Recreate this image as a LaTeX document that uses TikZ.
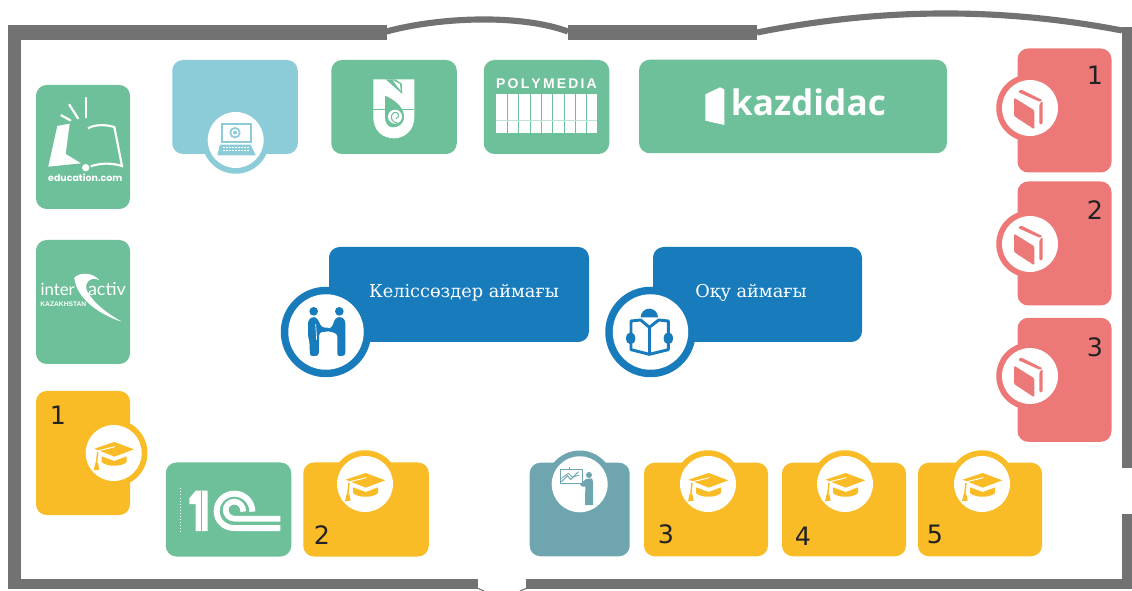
\documentclass[tikz,border=0pt]{standalone}
\usepackage{fontspec}
\setmainfont{DejaVu Sans}
\newfontfamily\labelfont{DejaVu Serif}
\newfontfamily\kazfont{Open Sans}
\newfontfamily\edufont{Poppins}
\newfontfamily\interfont{Lato}
\newfontfamily\polyfont{Liberation Sans}
\definecolor{wallc}{HTML}{727272}
\definecolor{greenc}{HTML}{6EC09A}
\definecolor{yellowc}{HTML}{F9BC26}
\definecolor{redc}{HTML}{EC7878}
\definecolor{bluec}{HTML}{187CBC}
\definecolor{skyc}{HTML}{8BCCD8}
\definecolor{tealc}{HTML}{6FA5AE}
\definecolor{numc}{HTML}{222222}
\tikzset{
  zoomed/.style 2 args={shift={(#1,#2)},x=.25pt,y=-.25pt},
  card/.style={rectangle,rounded corners=8pt,inner sep=0pt,outer sep=0pt},
  wide/.style={card,minimum width=125.5*.75pt,minimum height=94*.75pt},
  tall/.style={card,minimum width=94*.75pt,minimum height=124*.75pt},
  ring/.style={circle,inner sep=0pt,outer sep=0pt,minimum size=67.5*.75pt},
  disc/.style={circle,inner sep=0pt,outer sep=0pt,fill=white,minimum size=56*.75pt},
  bigring/.style={circle,inner sep=0pt,outer sep=0pt,fill=bluec,minimum size=90.5*.75pt},
  bigdisc/.style={circle,inner sep=0pt,outer sep=0pt,fill=white,minimum size=75.5*.75pt},
  wall/.style={fill=wallc},
  wallarc/.style={draw=wallc,line width=4.6pt,line cap=butt},
  num/.style={text=numc,font=\fontsize{19}{19}\selectfont,inner sep=0pt},
  zone/.style={text=white,font=\labelfont\fontsize{13.3}{15}\selectfont,inner sep=0pt},
  capicon/.pic={
    \begin{scope}[x=.25pt,y=-.25pt,shift={(-341,-670)}]
      \fill[yellowc] (283,657) -- (343,637) -- (402,659) -- (343,681) -- cycle;
      \fill[yellowc] (305,680) -- (343,694) -- (380,680) -- (380,697) .. controls (365,712) and (320,712) .. (305,697) -- cycle;
      \draw[white,line width=.7pt] (292,664) -- (345,651);
      \draw[yellowc,line width=1.1pt] (293,667) -- (289,705);
      \fill[yellowc] (286,700) -- (294,700) -- (298,720) -- (281,722) -- cycle;
    \end{scope}},
  bookicon/.pic={
    \begin{scope}[x=.25pt,y=-.25pt,shift={(-150,-228)}]
      \fill[redc,rounded corners=1pt] (102,197) -- (163,235) -- (163,292) -- (102,252) -- cycle;
      \fill[redc,rounded corners=1pt] (114,180) -- (122,172) -- (188,205) -- (180,210) -- cycle;
      \fill[redc,rounded corners=1pt] (178,216) -- (188,207) -- (188,277) -- (178,277) -- cycle;
    \end{scope}},
}
\begin{document}
\begin{tikzpicture}[x=.75pt,y=-.75pt]
\useasboundingbox (0,0) rectangle (1132,591);
% walls
\fill[wall] (8,25) rectangle (386.5,40);
\fill[wall] (568,25) rectangle (757,40);
\fill[wall] (8,25) rectangle (20.5,589);
\fill[wall] (8,579) rectangle (478,589);
\fill[wall] (526,579) rectangle (1132,589);
\fill[wall] (1122,27) rectangle (1132,468);
\fill[wall] (1122,514) rectangle (1132,589);
\draw[wallarc] (386.5,31.5) .. controls (440,17) and (520,14) .. (568,31.5);
\draw[wallarc] (757,32.5) .. controls (880,8) and (1000,7) .. (1122,30.5);
\draw[wallc,line width=.8pt] (478,588.5) -- (484,591);
\draw[wallc,line width=.8pt] (526,588.5) -- (520,591);

% green cards
\node[tall,fill=greenc] (edu) at (83,147) {};
\node[tall,fill=greenc] (inter) at (83,302) {};
\node[wide,fill=skyc] (laptopcard) at (235,107) {};
\node[wide,fill=greenc] (nu) at (394,107) {};
\node[wide,fill=greenc] (poly) at (546.5,107) {};
\node[card,fill=greenc,minimum width=308*.75pt,minimum height=93.5*.75pt] (kaz) at (793,106.5) {};
\node[wide,fill=greenc] (onec) at (228.5,509.5) {};

% education.com logo
\begin{scope}[zoomed={0}{0}]
  \draw[white,line width=1.7pt,line cap=round] (257,294) -- (257,352);
  \draw[white,line width=1.7pt,line cap=round] (208,314) -- (234,355);
  \draw[white,line width=1.7pt,line cap=round] (184,346) -- (211,361);
  \fill[white] (172,378) -- (209,371) -- (197,462) -- (243,490) -- (145,500) -- cycle;
  \draw[white,line width=1.6pt] (264,385) .. controls (285,373) and (315,373) .. (343,381) -- (366,498) .. controls (330,487) and (300,490) .. (272,499);
  \fill[white] (257,503) circle (11);
  \node[text=white,font=\edufont\bfseries\fontsize{7.1}{8}\selectfont,inner sep=0pt] (edutext) at (256,532) {education.com};
\end{scope}

% interactiv logo
\begin{scope}[zoomed={0}{230}]
  \node[text=white,font=\interfont\fontsize{12.6}{14}\selectfont,inner sep=0pt] (intertext) at (173,177) {inter};
  \node[text=white,font=\interfont\fontsize{13.5}{14}\selectfont,inner sep=0pt] (activtext) at (321,177) {activ};
  \node[text=white,font=\polyfont\bfseries\fontsize{5}{6}\selectfont,inner sep=0pt] (kztext) at (190,223) {KAZAKHSTAN};
  \fill[white] (223,143) .. controls (240,125) and (280,128) .. (297,150) .. controls (270,138) and (250,160) .. (262,185) .. controls (285,225) and (330,255) .. (365,275) .. controls (300,255) and (228,205) .. cycle;
\end{scope}

% laptop card badge
\node[ring,fill=skyc] (laptopring) at (235.7,140) {};
\node[disc] (laptopdisc) at (235.7,140) {};
\begin{scope}[zoomed={200}{110}]
  \fill[skyc] (62,38) rectangle (157,100);
  \fill[white] (70,45) rectangle (149,92);
  \fill[skyc] (105,68) circle (17);
  \fill[white] (105,68) circle (11);
  \fill[skyc] (105,68) circle (6);
  \fill[skyc] (60,104) -- (152,104) -- (167,136) -- (52,136) -- cycle;
  \foreach \kx in {70,79,...,142} {\fill[white] (\kx,110) rectangle (\kx+6,115); \fill[white] (\kx-2,119) rectangle (\kx+4,124);}
\end{scope}

% NU logo
\begin{scope}[zoomed={320}{0}]
  \fill[white] (160,238) -- (283,238) -- (283,350) .. controls (283,395) and (250,415) .. (222,415) .. controls (190,415) and (160,395) .. (160,350) -- cycle;
  \fill[greenc] (197,238) -- (225,238) -- (245,250) -- (247,282) -- cycle;
  \fill[white] (218,241) -- (240,252) -- (242,272) -- cycle;
  \draw[greenc,line width=.5pt] (160,328) -- (283,328);
  \fill[greenc] (195,287) .. controls (225,300) and (252,322) .. (252,350) .. controls (252,372) and (235,382) .. (218,382) .. controls (205,382) and (195,370) .. (195,350) -- cycle;
  \fill[white] (225,350) circle (21);
  \draw[greenc,line width=.8pt] (232,368) .. controls (212,368) and (208,345) .. (222,338) .. controls (235,333) and (242,352) .. (228,356);
\end{scope}

% Polymedia logo
\begin{scope}[zoomed={320}{0}]
  \node[text=white,font=\polyfont\bfseries\fontsize{10.5}{11}\selectfont,inner sep=0pt] (polytext) at (679.5,251) {\hbox to 75.5pt{P\hfil O\hfil L\hfil Y\hfil M\hfil E\hfil D\hfil I\hfil A}};
  \fill[white] (529,283) rectangle (830,398);
  \foreach \gx in {562,596,630,665,698,732,765,798} {\draw[greenc,line width=.45pt] (\gx,283) -- (\gx,398);}
  \draw[greenc!45!white,line width=.7pt] (529,360) -- (830,360);
\end{scope}

% kazdidac logo
\begin{scope}[zoomed={640}{0}]
  \fill[white] (196,283) -- (240,262) -- (253,268) -- (253,375) -- (196,362) -- cycle;
  \node[text=white,font=\kazfont\bfseries\fontsize{26.4}{30}\selectfont,inner sep=0pt,anchor=base west] (kaztext) at (272,348) {kazdidac};
\end{scope}

% 1C logo
\begin{scope}[zoomed={0}{230}]
  \draw[white,line width=.3pt,dotted] (542,775) -- (542,912);
  \fill[white] (568,805) -- (587,782) -- (623,782) -- (623,903) -- (587,903) -- (587,822) -- (568,822) -- cycle;
  \draw[greenc,line width=.7pt] (605,782) -- (605,903);
  \draw[white,line width=4.5pt] (757,845) .. controls (757,815) and (733,791) .. (703,791) .. controls (673,791) and (650,815) .. (650,843) .. controls (650,873) and (673,894) .. (703,894) -- (841,894);
  \draw[white,line width=4.25pt] (841,866) -- (703,866) .. controls (688,866) and (677,853) .. (677,840) .. controls (677,826) and (688,815) .. (703,815) .. controls (718,815) and (730,828) .. (730,845);
\end{scope}

% yellow cards
\node[tall,fill=yellowc] (y1) at (83,453) {};
\node[wide,fill=yellowc] (y2) at (366,509.5) {};
\node[card,fill=tealc,minimum width=100*.75pt,minimum height=93.5*.75pt] (teach) at (579.7,509.5) {};
\node[card,fill=yellowc,minimum width=124*.75pt,minimum height=93.5*.75pt] (y3) at (706,509.5) {};
\node[card,fill=yellowc,minimum width=124*.75pt,minimum height=93.5*.75pt] (y4) at (844,509.5) {};
\node[card,fill=yellowc,minimum width=124*.75pt,minimum height=93.5*.75pt] (y5) at (980,509.5) {};
\foreach \nm/\cx/\cy in {y1/113.7/453,y2/365/484,y3/708/484,y4/845/484,y5/982/484} {
  \node[ring,fill=yellowc] (\nm ring) at (\cx,\cy) {};
  \node[disc] (\nm disc) at (\cx,\cy) {};
  \pic at (\cx,\cy) {capicon};
}
\node[num] (n1) at (58,415) {1};
\node[num] (n2) at (322,535) {2};
\node[num] (n3) at (666,534) {3};
\node[num] (n4) at (803,536) {4};
\node[num] (n5) at (935,534) {5};

% teacher badge
\node[ring,fill=tealc] (teachring) at (579.7,484.3) {};
\node[disc] (teachdisc) at (579.7,484.3) {};
\begin{scope}[zoomed={440}{440}]
  \draw[tealc,line width=.9pt] (362,88) rectangle (427,130);
  \draw[tealc,line width=.7pt] (389,88) -- (389,80);
  \draw[tealc,line width=.8pt] (364,125) -- (382,107) -- (392,118) -- (415,95);
  \draw[tealc,line width=.6pt] (364,115) -- (385,100) -- (398,112) -- (418,105);
  \fill[tealc] (447,105) circle (9);
  \fill[tealc] (438,117) -- (456,115) -- (459,125) -- (459,195) -- (435,195) -- (436,140) -- (427,140) -- (420,134) -- (423,130) -- cycle;
\end{scope}

% red cards
\node[tall,fill=redc] (r1) at (1064.5,110.5) {};
\node[tall,fill=redc] (r2) at (1064.5,243.5) {};
\node[tall,fill=redc] (r3) at (1064.5,379.8) {};
\foreach \nm/\cy in {r1/108,r2/244,r3/376} {
  \node[ring,fill=redc] (\nm ring) at (1030,\cy) {};
  \node[disc] (\nm disc) at (1030,\cy) {};
  \pic at (1030,\cy) {bookicon};
}
\node[num] (m1) at (1095,75) {1};
\node[num] (m2) at (1095,210) {2};
\node[num] (m3) at (1095,347) {3};

% blue zones
\node[card,fill=bluec,minimum width=260*.75pt,minimum height=95*.75pt] (zone1) at (459,294.5) {};
\node[card,fill=bluec,minimum width=209*.75pt,minimum height=95*.75pt] (zone2) at (757.5,294.5) {};
\node[bigring] (ring1) at (326,332) {};
\node[bigdisc] (disc1) at (326,332) {};
\node[bigring] (ring2) at (650.5,332) {};
\node[bigdisc] (disc2) at (650.5,332) {};
\node[zone] (zonetext1) at (464,293) {Келіссөздер аймағы};
\node[zone] (zonetext2) at (751,293) {Оқу аймағы};

% handshake
\begin{scope}[zoomed={270}{240}]
  \fill[bluec] (131,214) circle (13);
  \fill[bluec] (208,214) circle (13);
  \fill[bluec,rounded corners=2pt] (114,242) -- (125,231) -- (140,232) -- (155,262) -- (182,264) -- (178,274) -- (148,277) -- (146,347) -- (120,349) -- (118,300) -- (114,290) -- cycle;
  \fill[bluec,rounded corners=2pt] (196,234) -- (215,230) -- (226,242) -- (226,347) -- (202,349) -- (202,282) -- (186,276) -- (162,272) -- (186,262) -- cycle;
  \draw[white,line width=.5pt] (137,252) -- (140,300);
\end{scope}

% reader
\begin{scope}[zoomed={590}{240}]
  \fill[bluec] (152,232) arc[start angle=180,end angle=360,radius=26] -- cycle;
  \draw[bluec,line width=2.2pt,line join=round,fill=white] (123,243) -- (152,240) -- (178,262) -- (206,240) -- (235,243) -- (235,329) -- (178,343) -- (123,329) -- cycle;
  \draw[bluec,line width=2.2pt] (178,262) -- (178,343);
  \fill[bluec] (122,295) ellipse (14 and 18);
  \fill[bluec] (235,295) ellipse (14 and 18);
\end{scope}
\end{tikzpicture}
\end{document}
